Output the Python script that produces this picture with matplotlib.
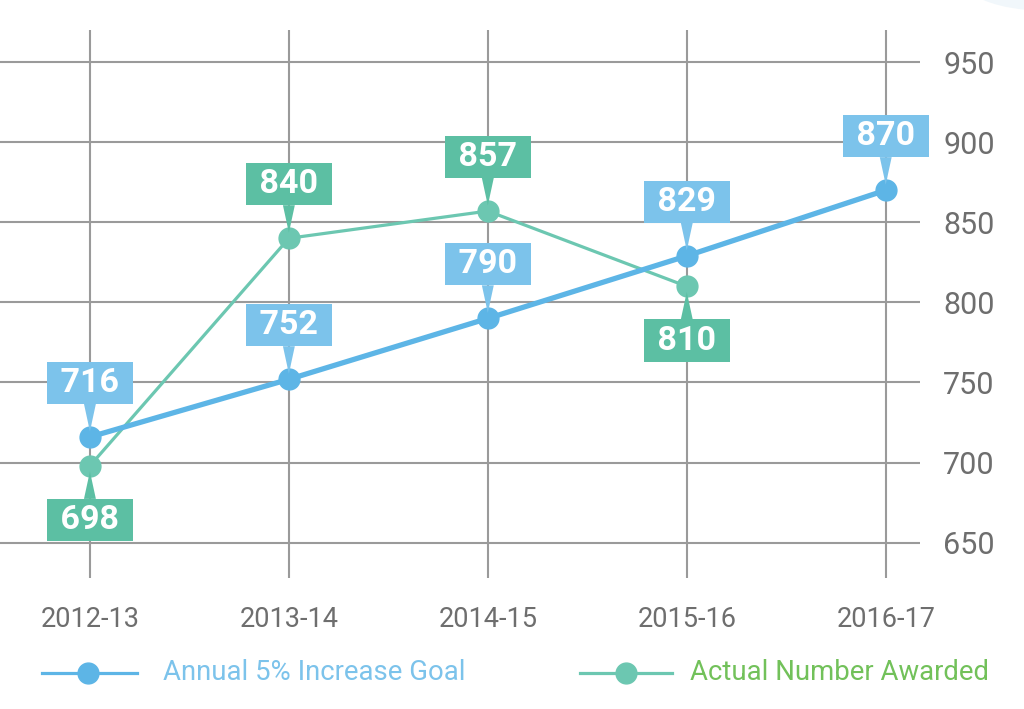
import matplotlib
matplotlib.use("Agg")
import matplotlib.pyplot as plt
from matplotlib.lines import Line2D
from matplotlib.patches import Ellipse

# Chart data
years = ["2012-13", "2013-14", "2014-15", "2015-16", "2016-17"]
goal_values = [716, 752, 790, 829, 870]
actual_values = [698, 840, 857, 810]
y_ticks = [650, 700, 750, 800, 850, 900, 950]
legend_labels = ["Annual 5% Increase Goal", "Actual Number Awarded"]

# label above (+1) or below (-1) the point
goal_label_side = [1, 1, 1, 1, 1]
actual_label_side = [-1, 1, 1, -1]

BLUE_LINE = "#5db5e6"
BLUE_BOX = "#7cc3eb"
GREEN_LINE = "#6cc7b1"
GREEN_BOX = "#5cbfa3"
GRID = "#9a9a9a"
TICK = "#6e6e6e"

FONT = ["Roboto", "DejaVu Sans"]

fig = plt.figure(figsize=(10.24, 7.09), dpi=100)
fig.patches.append(Ellipse((1.02, 1.03), 0.16, 0.09, transform=fig.transFigure,
                           facecolor="#f1f7fb", edgecolor="none", zorder=0))
ax = fig.add_axes([0.0, 0.1848, 0.898, 0.7729])
ax.set_xlim(-0.452, 4.17)
ax.set_ylim(628, 970)

for y in y_ticks:
    ax.axhline(y, color=GRID, linewidth=1.5, zorder=1)
for i in range(len(years)):
    ax.axvline(i, color=GRID, linewidth=1.5, zorder=1)

for s in ax.spines.values():
    s.set_visible(False)

ax.yaxis.tick_right()
ax.set_yticks(y_ticks)
ax.set_yticklabels([str(v) for v in y_ticks], family=FONT, fontsize=22, color=TICK)
ax.set_xticks(range(len(years)))
ax.set_xticklabels(years, family=FONT, fontsize=19.5, color=TICK)
ax.tick_params(axis="both", length=0)
ax.tick_params(axis="y", pad=17)
ax.tick_params(axis="x", pad=20)

xs_goal = list(range(len(goal_values)))
xs_actual = list(range(len(actual_values)))
ax.plot(xs_actual, actual_values, color=GREEN_LINE, linewidth=2.3, marker="o",
        markersize=15, zorder=3)
ax.plot(xs_goal, goal_values, color=BLUE_LINE, linewidth=3.8, marker="o",
        markersize=15, zorder=4)


def add_labels(xs, vals, sides, box_color):
    for x, v, side in zip(xs, vals, sides):
        ax.annotate(
            f" {v} ", xy=(x, v), xytext=(0, 39 * side), textcoords="offset points",
            ha="center", va="center", color="white", fontsize=24.5, fontweight="bold",
            family=FONT, zorder=6,
            bbox=dict(boxstyle="square,pad=0.15", facecolor=box_color, edgecolor="none"),
            arrowprops=dict(arrowstyle="wedge,tail_width=0.35", facecolor=box_color,
                            edgecolor="none", shrinkA=0, shrinkB=4),
        )


add_labels(xs_goal, goal_values, goal_label_side, BLUE_BOX)
add_labels(xs_actual, actual_values, actual_label_side, GREEN_BOX)

# legend drawn by hand in figure pixels
W, H = 1024.0, 709.0
leg_y = 1 - 673 / H
leg_items = [
    (42, 137, 88, 163, BLUE_LINE, "#7cc3eb", legend_labels[0]),
    (580, 672, 626, 690, GREEN_LINE, "#72c15a", legend_labels[1]),
]
for x0, x1, xm, xt, lc, tc, label in leg_items:
    fig.add_artist(Line2D([x0 / W, x1 / W], [leg_y, leg_y], color=lc, linewidth=2.3,
                          transform=fig.transFigure))
    fig.add_artist(Line2D([xm / W], [leg_y], color=lc, marker="o", markersize=15,
                          linestyle="none", transform=fig.transFigure))
    fig.text(xt / W, leg_y, label, color=tc, fontsize=19.8, family=FONT,
             ha="left", va="center")

fig.savefig("out.png", dpi=100)
